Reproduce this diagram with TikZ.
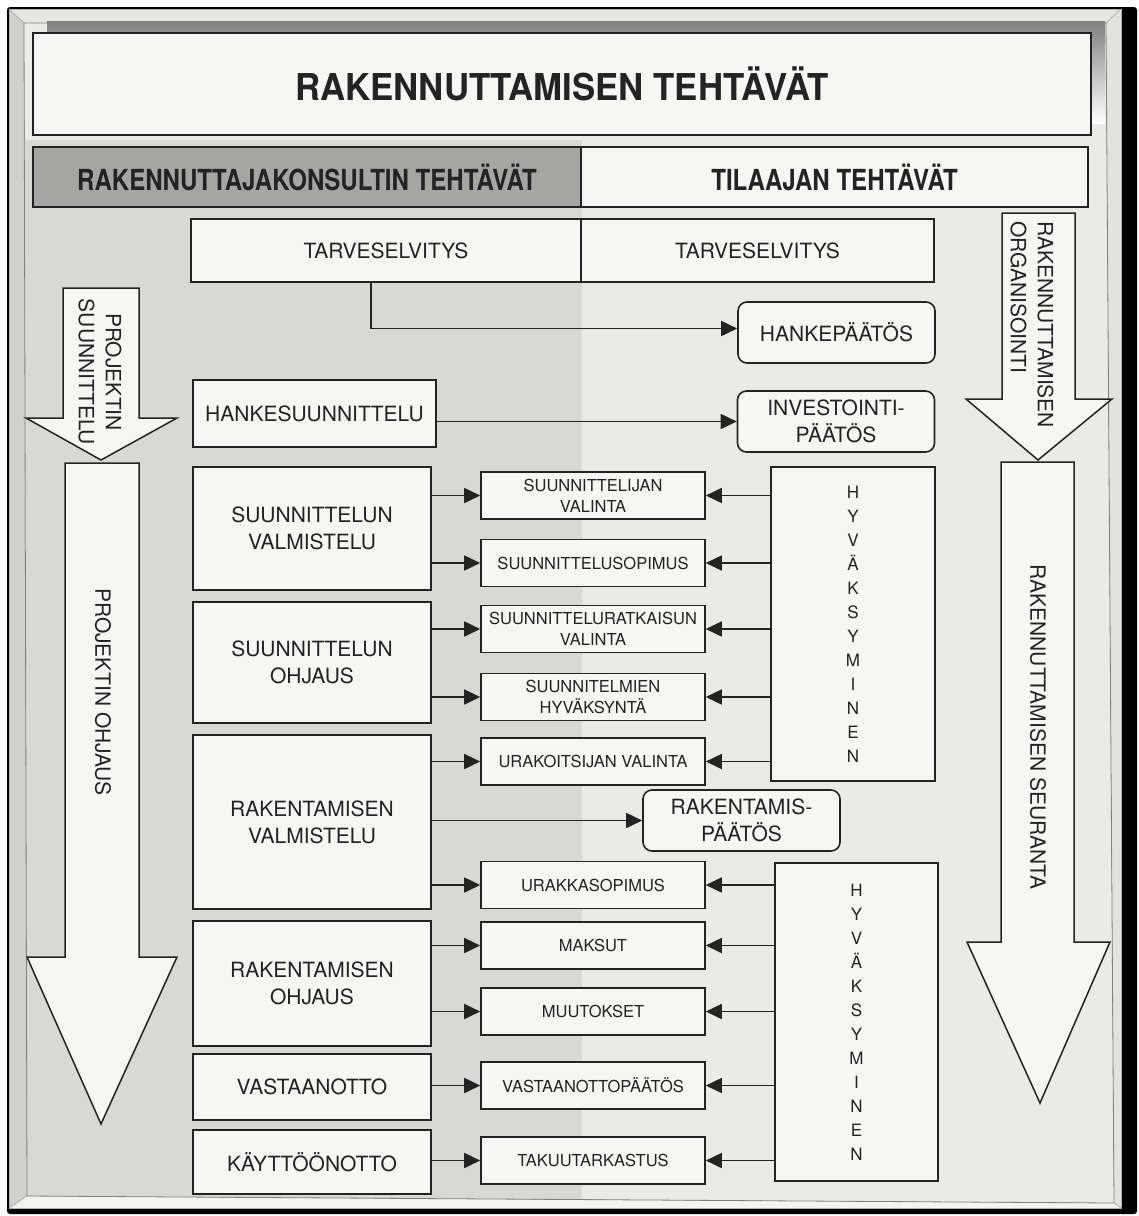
\documentclass[tikz,border=0pt]{standalone}
\usepackage{fontspec}
\setmainfont{TeX Gyre Heros}
\usetikzlibrary{arrows.meta}
\definecolor{ink}{HTML}{232323}
\definecolor{paperL}{HTML}{D8D8D5}
\definecolor{paperR}{HTML}{EAEAE7}
\definecolor{boxfill}{HTML}{F6F6F4}
\definecolor{headfill}{HTML}{A5A5A3}
\definecolor{shade}{HTML}{868686}
\definecolor{bevT}{HTML}{E6E6E2}
\definecolor{bevL}{HTML}{D0D0CC}
\definecolor{bevB}{HTML}{F3F3EF}
\definecolor{bevR}{HTML}{E2E2DE}
\begin{document}
\begin{tikzpicture}[x=1pt,y=-1pt,
  box/.style={draw=ink, line width=1.6pt, fill=boxfill, inner sep=0pt, align=center, text=ink},
  bigtxt/.style={font=\fontsize{21}{27}\selectfont},
  smalltxt/.style={font=\fontsize{16.5}{21}\selectfont},
  leftbox/.style={box, bigtxt, minimum width=238pt},
  midbox/.style={box, smalltxt, minimum width=224pt, minimum height=47pt},
  decbox/.style={box, bigtxt, rounded corners=9pt, minimum width=197pt, minimum height=61pt},
  hyvbox/.style={box, font=\fontsize{17}{24}\selectfont},
  vtext/.style={rotate=-90, bigtxt, inner sep=0pt, text=ink},
  arr/.style={draw=ink, line width=1.7pt, -{Triangle[length=16pt,width=15pt]}},
  bigarrow/.style={draw=ink, line width=1.5pt, fill=boxfill, line join=miter},
]
\useasboundingbox (0,0) rectangle (1139,1216);
% ---- frame and paper ----
\fill[white] (0,0) rectangle (1139,1216);
\fill[black, rounded corners=3pt] (7,7) rectangle (1137,1214);
\fill[bevT] (9,9) -- (1121,9) -- (1106,23) -- (24,23) -- cycle;
\fill[bevL] (9,9) -- (24,23) -- (27,1196) -- (9,1208) -- cycle;
\fill[bevB] (9,1208) -- (27,1196) -- (1114,1203) -- (1121,1208) -- cycle;
\fill[bevR] (1121,9) -- (1121,1208) -- (1114,1203) -- (1106,23) -- cycle;
\fill[paperR] (24,23) -- (1106,23) -- (1114,1203) -- (27,1196) -- cycle;
\fill[paperL] (24,140) -- (582,140) -- (582,1199.5) -- (27,1196) -- cycle;
\draw[gray, line width=0.8pt] (24,23) -- (1106,23) -- (1114,1203) -- (27,1196) -- cycle;
\draw[gray!70, line width=0.6pt] (9,9) -- (24,23) (1121,9) -- (1106,23) (9,1208) -- (27,1196) (1121,1208) -- (1114,1203);
\draw[gray!60, line width=0.6pt] (9,9) rectangle (1121,1208);
% ---- title ----
\fill[shade] (47,21) rectangle (1105,123);
\node[box, line width=2.5pt, minimum width=1058pt, minimum height=102pt] (title) at (562,84)
  {\fontsize{37}{44}\selectfont\bfseries\scalebox{0.94}[1]{RAKENNUTTAMISEN TEHTÄVÄT}};
% ---- header ----
\node[box, line width=2pt, fill=headfill, minimum width=548pt, minimum height=60pt] (hl) at (307,177)
  {\fontsize{29}{35}\selectfont\bfseries\scalebox{0.83}[1]{RAKENNUTTAJAKONSULTIN TEHTÄVÄT}};
\node[box, line width=2pt, minimum width=507pt, minimum height=60pt] (hr) at (834.5,177)
  {\fontsize{29}{35}\selectfont\bfseries\scalebox{0.83}[1]{TILAAJAN TEHTÄVÄT}};
% ---- big arrows ----
\draw[bigarrow] (63,288) -- (139,288) -- (139,418) -- (177,418) -- (101,460) -- (26,418) -- (63,418) -- cycle;
\draw[bigarrow] (65,463) -- (139,463) -- (139,957) -- (177,957) -- (101,1124) -- (27,957) -- (65,957) -- cycle;
\draw[bigarrow] (1002,213) -- (1075,213) -- (1075,399) -- (1112,399) -- (1038,460) -- (966,399) -- (1002,399) -- cycle;
\draw[bigarrow] (1001,462) -- (1074,462) -- (1074,942) -- (1110,942) -- (1040,1103) -- (967,942) -- (1001,942) -- cycle;
\node[vtext, align=center] (pst) at (100,372) {PROJEKTIN\\SUUNNITTELU};
\node[vtext] (pot) at (103,692) {PROJEKTIN OHJAUS};
\node[vtext, anchor=west, align=left] (rot) at (1032,221) {RAKENNUTTAMISEN\\ORGANISOINTI};
\node[vtext] (rst) at (1038,727) {RAKENNUTTAMISEN SEURANTA};
% ---- boxes ----
\node[box, bigtxt, minimum width=390pt, minimum height=63pt] (tl) at (386,250.5) {TARVESELVITYS};
\node[box, bigtxt, minimum width=353pt, minimum height=63pt] (tr) at (757.5,250.5) {TARVESELVITYS};
\node[decbox] (hp) at (836.5,332.5) {HANKEPÄÄTÖS};
\node[decbox] (ip) at (836,421.5) {INVESTOINTI-\\PÄÄTÖS};
\node[decbox] (rp) at (741.5,820.5) {RAKENTAMIS-\\PÄÄTÖS};
\node[box, bigtxt, minimum width=243pt, minimum height=67pt] (hs) at (314.5,413.5) {HANKESUUNNITTELU};
\node[leftbox, minimum height=123pt] (sv) at (312,528.5) {SUUNNITTELUN\\VALMISTELU};
\node[leftbox, minimum height=121pt] (so) at (312,662.5) {SUUNNITTELUN\\OHJAUS};
\node[leftbox, minimum height=174pt] (rv) at (312,822) {RAKENTAMISEN\\VALMISTELU};
\node[leftbox, minimum height=125pt] (ro) at (312,983.5) {RAKENTAMISEN\\OHJAUS};
\node[leftbox, minimum height=66pt] (va) at (312,1087) {VASTAANOTTO};
\node[leftbox, minimum height=64pt] (ko) at (312,1162) {KÄYTTÖÖNOTTO};
\node[midbox] (m1) at (593,495.5) {SUUNNITTELIJAN\\VALINTA};
\node[midbox] (m2) at (593,563) {SUUNNITTELUSOPIMUS};
\node[midbox] (m3) at (593,629) {SUUNNITTELURATKAISUN\\VALINTA};
\node[midbox] (m4) at (593,697) {SUUNNITELMIEN\\HYVÄKSYNTÄ};
\node[midbox] (m5) at (593,761.5) {URAKOITSIJAN VALINTA};
\node[midbox] (m6) at (593,885) {URAKKASOPIMUS};
\node[midbox] (m7) at (593,945.5) {MAKSUT};
\node[midbox] (m8) at (593,1011.5) {MUUTOKSET};
\node[midbox] (m9) at (593,1085.5) {VASTAANOTTOPÄÄTÖS};
\node[midbox] (m10) at (593,1160.5) {TAKUUTARKASTUS};
\node[hyvbox, minimum width=164pt, minimum height=314pt] (h1) at (853,624) {H\\Y\\V\\Ä\\K\\S\\Y\\M\\I\\N\\E\\N};
\node[hyvbox, minimum width=163pt, minimum height=318pt] (h2) at (856.5,1022) {H\\Y\\V\\Ä\\K\\S\\Y\\M\\I\\N\\E\\N};
% ---- connectors ----
\draw[arr] ([xshift=-15pt]tl.south) |- ([yshift=4pt]hp.west);
\draw[arr] (hs.east |- ip.west) -- (ip.west);
\draw[arr] (rv.east |- rp.west) -- (rp.west);
\foreach \s/\m in {sv/m1, sv/m2, so/m3, so/m4, rv/m5, rv/m6, ro/m7, ro/m8, va/m9, ko/m10}
  \draw[arr] (\s.east |- \m.west) -- (\m.west);
\foreach \m in {m1,m2,m3,m4,m5}
  \draw[arr] (h1.west |- \m.east) -- (\m.east);
\foreach \m in {m6,m7,m8,m9,m10}
  \draw[arr] (h2.west |- \m.east) -- (\m.east);
\end{tikzpicture}
\end{document}
